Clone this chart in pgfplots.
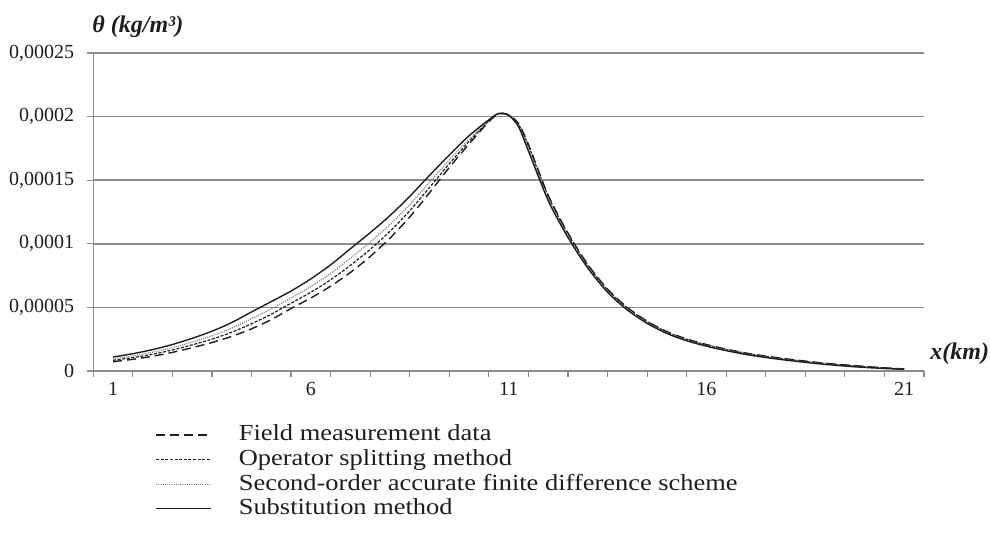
\documentclass[border=0pt]{standalone}
\usepackage{pgfplots}
\pgfplotsset{compat=1.18}
\usepackage{pgfplotstable}
\usepackage{fontspec}
\setmainfont{Liberation Serif}
\newfontfamily\legfont[FakeStretch=1.15]{Liberation Serif}
\definecolor{gridgray}{HTML}{8C8C8C}
\definecolor{dotgray}{HTML}{7A7A7A}
\definecolor{ink}{HTML}{1E1E1E}

% values of theta in units of 1e-5 kg/m^3
\pgfplotstableread{
x     S      F      O      D
1     1.100  0.730  0.841  0.952
1.5   1.361  0.921  1.053  1.185
2     1.683  1.161  1.318  1.474
2.5   2.083  1.464  1.650  1.835
3     2.570  1.837  2.057  2.277
3.5   3.129  2.237  2.505  2.772
4     3.811  2.724  3.050  3.376
4.5   4.641  3.317  3.714  4.111
5     5.459  4.040  4.466  4.891
5.5   6.288  4.919  5.330  5.740
6     7.244  5.740  6.191  6.642
6.5   8.345  6.669  7.172  7.675
7     9.613  7.748  8.308  8.867
7.5   10.875 9.002  9.564  10.126
8     12.22  10.45  10.98  11.51
8.5   13.73  12.11  12.60  13.08
9     15.38  14.02  14.43  14.84
9.5   16.98  16.00  16.29  16.59
10    18.50  17.85  18.05  18.24
10.5  19.75  19.60  19.65  19.69
10.75 20.25  20.20  20.22  20.23
11    20.10  20.14  20.12  20.11
11.25 19.20  19.45  19.38  19.28
11.5  17.30  17.81  17.71  17.50
12    13.40  13.82  13.73  13.56
12.5  10.50  10.84  10.77  10.64
13    8.10   8.38   8.32   8.21
13.5  6.20   6.44   6.38   6.29
14    4.80   5.00   4.96   4.88
14.5  3.75   3.92   3.885  3.82
15    2.95   3.10   3.07   3.01
15.5  2.38   2.52   2.49   2.43
16    1.95   2.08   2.05   2.00
16.5  1.60   1.72   1.69   1.65
17    1.30   1.41   1.39   1.34
17.5  1.06   1.17   1.14   1.10
18    0.86   0.96   0.94   0.90
18.5  0.68   0.78   0.75   0.72
19    0.52   0.61   0.59   0.56
19.5  0.39   0.48   0.46   0.42
20    0.28   0.36   0.34   0.31
20.5  0.20   0.25   0.24   0.22
21    0.13   0.16   0.15   0.14
}\data

\begin{document}
\begin{tikzpicture}
\useasboundingbox (0,0) rectangle (495pt,270pt);
\begin{axis}[
  at={(46.65pt,84.5pt)}, anchor=south west,
  scale only axis, width=415.35pt, height=159pt,
  xmin=0.5, xmax=21.5, ymin=0, ymax=25,
  axis x line*=bottom, axis y line*=left,
  axis line style={gridgray, line width=0.75pt},
  every tick/.style={gridgray, line width=0.6pt},
  tick align=outside, major tick length=3pt,
  xtick={0.5,1.5,...,21.5}, xticklabels={},
  extra x ticks={1,6,11,16,21},
  extra x tick labels={1,6,11,16,21},
  extra x tick style={major tick length=0pt},
  ytick={0,5,10,15,20,25},
  yticklabels={0,{0,00005},{0,0001},{0,00015},{0,0002},{0,00025}},
  ymajorgrids, major grid style={gridgray, line width=0.75pt},
  ticklabel style={font=\fontsize{10}{12}\selectfont, text=ink},
  yticklabel style={xshift=-3pt},
  xticklabel style={yshift=-2pt},
  legend style={at={(0.0743,-0.162)}, anchor=north west, draw=none, fill=none,
    inner sep=0pt, row sep=0.3pt, column sep=13.5pt,
    font=\legfont\fontsize{11.5}{13}\selectfont,
    nodes={inner sep=0pt, text height=9pt, text depth=3pt, text=ink}},
  legend cell align=left,
  legend image code/.code={\draw[#1] (0pt,0pt) -- (27.5pt,0pt);},
]
\addplot[ink, line width=0.7pt, dash pattern=on 4.5pt off 2.5pt, smooth] table[x=x,y=F]{\data};
\addlegendentry{Field measurement data}
\addplot[ink, line width=0.6pt, dash pattern=on 1.5pt off 0.8pt, smooth] table[x=x,y=O]{\data};
\addlegendentry{Operator splitting method}
\addplot[dotgray, line width=0.6pt, dash pattern=on 0.5pt off 0.6pt, smooth] table[x=x,y=D]{\data};
\addlegendentry{Second-order accurate finite difference scheme}
\addplot[ink, line width=0.7pt, smooth] table[x=x,y=S]{\data};
\addlegendentry{Substitution method}
\end{axis}
\node[anchor=west, text=ink, font=\fontsize{12}{14}\selectfont\bfseries\itshape, inner sep=0pt] at (46pt,256.5pt) {θ (kg/m³)};
\node[anchor=west, text=ink, font=\fontsize{12}{14}\selectfont\bfseries\itshape, inner sep=0pt] at (465pt,93pt) {x(km)};
\end{tikzpicture}
\end{document}
